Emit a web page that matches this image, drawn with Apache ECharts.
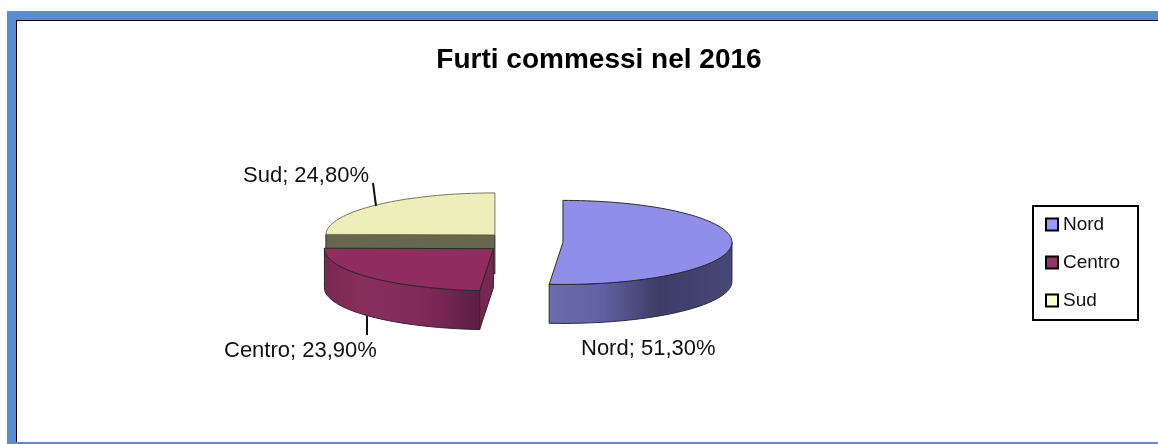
<!DOCTYPE html>
<html>
<head>
<meta charset="utf-8">
<style>
  html, body { margin: 0; padding: 0; background: #fff; }
  #chart { width: 1158px; height: 444px; }
</style>
<script src="https://cdn.jsdelivr.net/npm/echarts@6/dist/echarts.min.js"></script>
</head>
<body>
<div id="chart"></div>
<script>
const titleText = "Furti commessi nel 2016";
const categories = ["Nord", "Centro", "Sud"];
const shares = [51.3, 23.9, 24.8];

// look of each slice, same order as categories
const topColors = ["#8f8fe9", "#8e2d5e", "#eeeeba"];
const legendColors = ["#9999ff", "#993366", "#ffffcc"];
const wallStops = [
  [[0, "#6c6cae"], [0.3, "#6060a2"], [0.6, "#3c3c66"], [1, "#484878"]],
  [[0, "#762951"], [0.25, "#8a2e5c"], [0.65, "#7e2a57"], [1, "#5c1e43"]],
  [[0, "#67674f"], [1, "#67674f"]]
];
const cutColors = [null, "#742852", "#67674f"];
const labelPos = [[581, 349], [224, 351], [243, 176]];
const leaders = [null, [[367, 316], [367, 335]], [[373, 183], [376, 206]]];

// 3d pie geometry
const base = { x: 523, y: 242 };
const rx = 169;
const ry = 42;
const depth = 39;
const explode = 40;

const total = shares.reduce((a, b) => a + b, 0);
const starts = shares.map((v, i) =>
  shares.slice(0, i).reduce((a, b) => a + b, 0) / total * 360
);

function pt(c, deg, dy) {
  const r = deg * Math.PI / 180;
  return [c.x + rx * Math.sin(r), c.y - ry * Math.cos(r) + (dy || 0)];
}

function arc(c, a0, a1, dy) {
  const out = [];
  const n = Math.max(2, Math.ceil(Math.abs(a1 - a0) / 2));
  for (let k = 0; k <= n; k++) out.push(pt(c, a0 + (a1 - a0) * k / n, dy));
  return out;
}

function wallFill(i) {
  return new echarts.graphic.LinearGradient(0, 0, 1, 0,
    wallStops[i].map(s => ({ offset: s[0], color: s[1] })));
}

function makeRenderItem(i) {
  return function (params, api) {
    const value = api.value(0);
    const a0 = starts[i];
    const a1 = a0 + value / total * 360;
    const mid = (a0 + a1) / 2 * Math.PI / 180;
    const c = {
      x: base.x + explode * Math.sin(mid),
      y: base.y - explode * (ry / rx) * Math.cos(mid)
    };
    const children = [];
    const line = { stroke: "#2b2b2b", lineWidth: 1 };

    // cut face that looks at the viewer
    if (cutColors[i]) {
      const p0 = pt(c, a0);
      children.push({
        type: "polygon",
        shape: { points: [[c.x, c.y], p0, [p0[0], p0[1] + depth], [c.x, c.y + depth]] },
        style: Object.assign({ fill: cutColors[i] }, line)
      });
    }

    // outer wall, only the lower half of the ellipse is visible
    const w0 = Math.max(a0, 90);
    const w1 = Math.min(a1, 270);
    if (w1 > w0) {
      children.push({
        type: "polygon",
        shape: { points: arc(c, w0, w1).concat(arc(c, w1, w0, depth)) },
        style: Object.assign({ fill: wallFill(i) }, line)
      });
    }

    // top face
    children.push({
      type: "polygon",
      shape: { points: [[c.x, c.y]].concat(arc(c, a0, a1)) },
      style: Object.assign({ fill: topColors[i] }, line,
        i === 2 ? { stroke: "#77775f" } : {})
    });

    if (leaders[i]) {
      children.push({
        type: "polyline",
        shape: { points: leaders[i] },
        style: { stroke: "#111", lineWidth: 2, fill: null }
      });
    }

    children.push({
      type: "text",
      style: {
        text: categories[i] + "; " + value.toFixed(2).replace(".", ",") + "%",
        x: labelPos[i][0],
        y: labelPos[i][1],
        verticalAlign: "middle",
        font: '22px "Liberation Sans", Arial, sans-serif',
        fill: "#111"
      }
    });

    return { type: "group", children: children };
  };
}

const drawOrder = [3, 2, 1]; // z per category: Nord on top, Sud at the back

const chart = echarts.init(document.getElementById("chart"), null, { renderer: "canvas" });

chart.setOption({
  animation: false,
  backgroundColor: "#fff",
  title: {
    text: titleText,
    left: 594,
    top: 41,
    textAlign: "center",
    textStyle: {
      fontFamily: '"Liberation Sans", Arial, sans-serif',
      fontSize: 28,
      fontWeight: "bold",
      color: "#000"
    }
  },
  legend: {
    data: categories,
    orient: "vertical",
    left: 1033,
    top: 206,
    padding: [9, 18, 10, 12],
    itemWidth: 12,
    itemHeight: 12,
    itemGap: 19,
    borderColor: "#000",
    borderWidth: 2,
    selectedMode: false,
    icon: "rect",
    textStyle: {
      fontFamily: '"Liberation Sans", Arial, sans-serif',
      fontSize: 19,
      color: "#111"
    }
  },
  graphic: [
    { type: "rect", shape: { x: 7, y: 11, width: 1151, height: 9 }, style: { fill: "#558ed5" } },
    { type: "rect", shape: { x: 7, y: 11, width: 9, height: 433 }, style: { fill: "#558ed5" } },
    { type: "rect", shape: { x: 7, y: 442, width: 1151, height: 2 }, style: { fill: "#558ed5" } },
    { type: "rect", shape: { x: 16, y: 20, width: 1142, height: 1 }, style: { fill: "#000" } },
    { type: "rect", shape: { x: 16, y: 20, width: 1, height: 422 }, style: { fill: "#000" } }
  ],
  series: categories.map((name, i) => ({
    type: "custom",
    name: name,
    coordinateSystem: "none",
    z: drawOrder[i],
    itemStyle: { color: legendColors[i], borderColor: "#000", borderWidth: 3 },
    data: [[shares[i]]],
    renderItem: makeRenderItem(i)
  }))
});
</script>
</body>
</html>
